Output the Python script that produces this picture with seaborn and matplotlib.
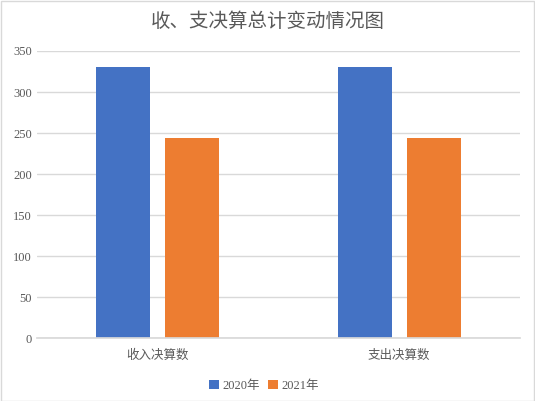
import pandas as pd
import matplotlib.pyplot as plt
import seaborn as sns

categories = ['收入决算数', '支出决算数']
years = ['2020年', '2021年']
values_2020 = [331, 331]
values_2021 = [244, 244]
yticks = [0, 50, 100, 150, 200, 250, 300, 350]

df = pd.DataFrame({
    'category': categories * 2,
    'year': [years[0]] * 2 + [years[1]] * 2,
    'value': values_2020 + values_2021,
})

sns.set_theme(style='white')
plt.rcParams['font.family'] = ['Liberation Serif', 'Noto Sans CJK SC']

fig = plt.figure(figsize=(5.35, 4.01), dpi=100)
ax = fig.add_axes([0.069, 0.156, 0.903, 0.717])

sns.barplot(data=df, x='category', y='value', hue='year',
            palette=['#4472c4', '#ed7d31'], saturation=1,
            width=0.572, gap=0.217, linewidth=0, ax=ax)

ax.set_xlim(-0.5, 1.5)
ax.set_ylim(0, 350)
ax.set_yticks(yticks)
ax.yaxis.grid(True, color='#d9d9d9', linewidth=1)
ax.set_axisbelow(True)
for s in ['top', 'right', 'left']:
    ax.spines[s].set_visible(False)
ax.spines['bottom'].set_color('#d9d9d9')
ax.tick_params(axis='both', length=0, labelsize=9, colors='#595959')
ax.tick_params(axis='x', pad=8)
ax.set_xlabel('')
ax.set_ylabel('')

fig.suptitle('收、支决算总计变动情况图', y=0.97, fontsize=14, color='#595959')

ax.legend(loc='upper center', bbox_to_anchor=(0.47, -0.105), ncol=2,
          frameon=False, fontsize=9, handlelength=0.8, handleheight=0.8,
          handletextpad=0.3, columnspacing=0.6, labelcolor='#595959')

fig.patches.append(plt.Rectangle((0.001, 0.001), 0.997, 0.997, transform=fig.transFigure,
                                 fill=False, edgecolor='#d9d9d9', linewidth=1))

fig.savefig('out.png', dpi=100)
